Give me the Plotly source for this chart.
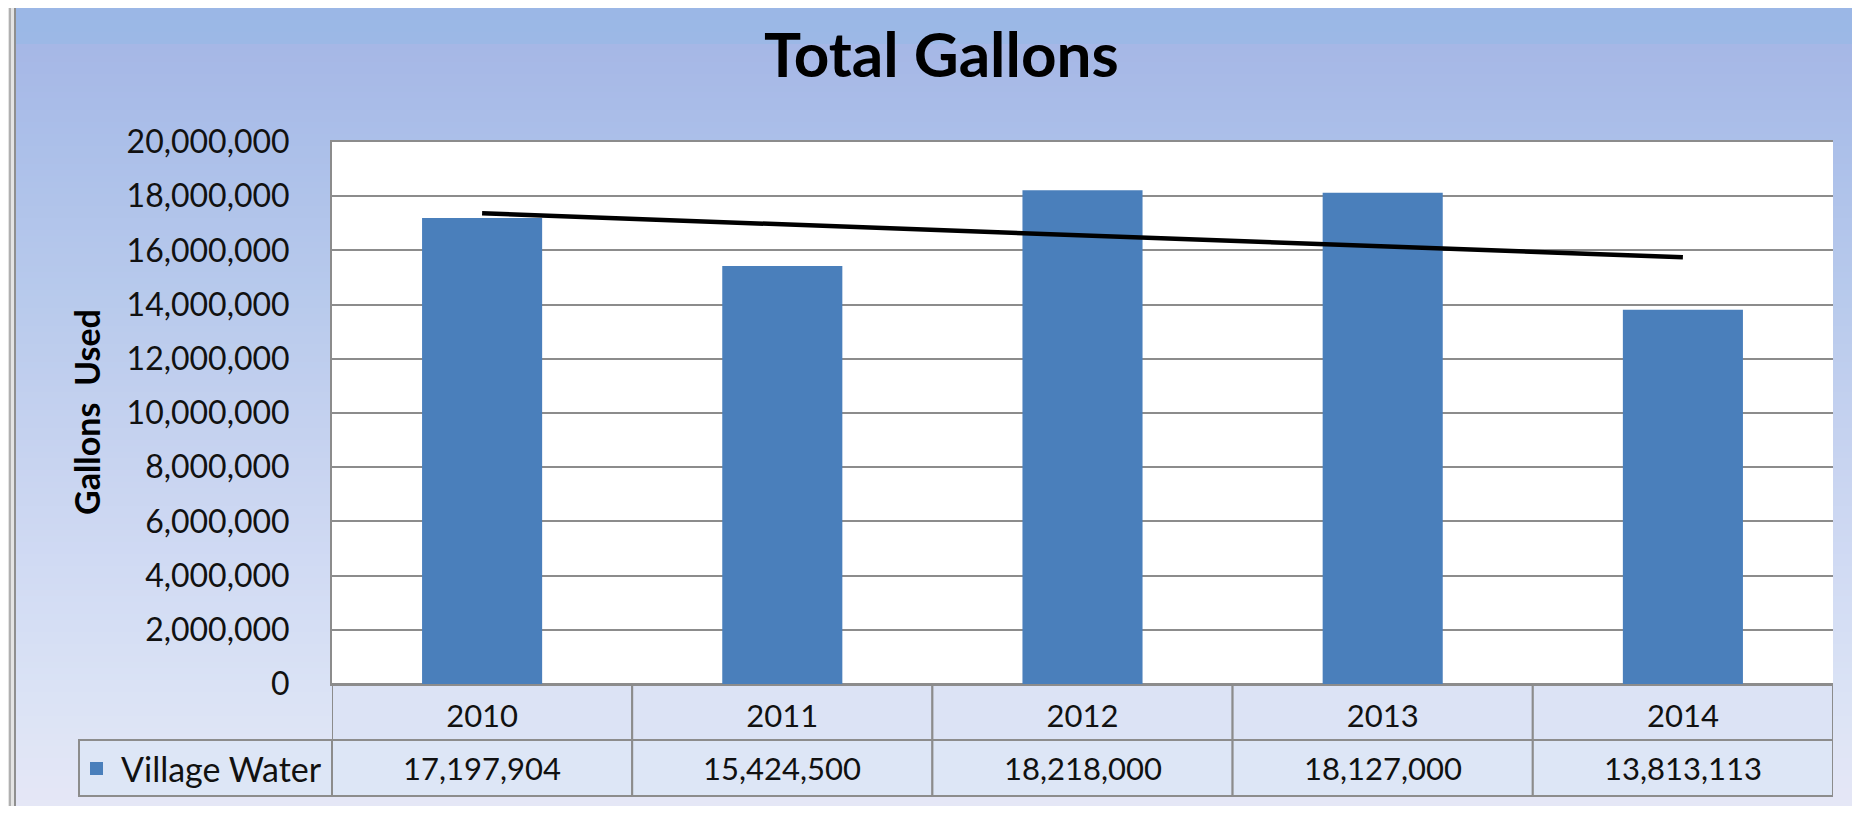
import numpy as np
import plotly.graph_objects as go

# ---------------- data ----------------
years = ["2010", "2011", "2012", "2013", "2014"]
gallons = [17197904, 15424500, 18218000, 18127000, 13813113]
series_name = "Village Water"
y_tick_values = [0, 2000000, 4000000, 6000000, 8000000, 10000000,
                 12000000, 14000000, 16000000, 18000000, 20000000]
chart_title = "Total Gallons"
y_title = "Gallons  Used"

# ---------------- geometry / style ----------------
# page body margin of 8px is compensated: figure is 1844x798 placed at (8, 8)
OX, OY = 8, 8
FW, FH = 1844, 798
PLOT_L, PLOT_R, PLOT_T, PLOT_B = 332, 1833, 142, 684
ROW1_B, ROW2_B = 740, 796
LEG_L = 79
BAR_COLOR = "#4a7fbb"
GRID = "#8c8c8c"
FONT = "Lato, Carlito, Calibri, sans-serif"
TXT = "#111111"


def px(x):
    return (x - OX) / FW


def py(y):
    return 1 - (y - OY) / FH


fig = go.Figure()

fig.add_bar(x=years, y=gallons, width=0.4, marker_color=BAR_COLOR,
            marker_line_width=0, name=series_name, showlegend=False)

idx = np.arange(len(years))
coef = np.polyfit(idx, gallons, 1)
trend = np.polyval(coef, idx)
fig.add_scatter(x=years, y=trend, mode="lines",
                line=dict(color="black", width=4.5), showlegend=False,
                name="Linear (Village Water)")

shapes = []

# background gradient (stripes)
stops = [(0, (0x9a, 0xb7, 0xe6)), (43, (0x9c, 0xb8, 0xe6)),
         (44, (0xa6, 0xb7, 0xe6)), (140, (0xab, 0xbf, 0xe9)),
         (300, (0xb8, 0xca, 0xec)), (420, (0xc4, 0xd1, 0xef)),
         (560, (0xd0, 0xda, 0xf3)), (700, (0xdb, 0xe3, 0xf5)),
         (814, (0xe6, 0xe7, 0xf6))]


def col_at(y):
    for (y0, c0), (y1, c1) in zip(stops[:-1], stops[1:]):
        if y0 <= y <= y1:
            t = (y - y0) / (y1 - y0) if y1 > y0 else 0
            return "rgb(%d,%d,%d)" % tuple(round(a + (b - a) * t) for a, b in zip(c0, c1))
    return "rgb(%d,%d,%d)" % stops[-1][1]


step = 6
for y in range(OY, 814, step):
    shapes.append(dict(type="rect", xref="paper", yref="paper", layer="below",
                       x0=px(16), x1=1, y0=max(0, py(y + step + 1)), y1=py(y),
                       fillcolor=col_at(y + step / 2), line_width=0))
# left window strip
shapes.append(dict(type="rect", xref="paper", yref="paper", layer="below",
                   x0=0, x1=px(16), y0=0, y1=1, fillcolor="#e4e4e4", line_width=0))
for xl, c in [(10, "#b0b0b0"), (15, "#8f8f8f")]:
    shapes.append(dict(type="line", xref="paper", yref="paper", layer="below",
                       x0=px(xl), x1=px(xl), y0=0, y1=1,
                       line=dict(color=c, width=2)))

# white plot area
shapes.append(dict(type="rect", xref="paper", yref="paper", layer="below",
                   x0=px(PLOT_L), x1=px(PLOT_R), y0=py(PLOT_B), y1=py(PLOT_T),
                   fillcolor="white", line_width=0))

# data table cells
for i in range(len(years)):
    shapes.append(dict(type="rect", xref="x", yref="paper", layer="below",
                       x0=i - 0.5, x1=i + 0.5, y0=py(ROW1_B), y1=py(PLOT_B),
                       fillcolor="#dce3f5", line=dict(color=GRID, width=2)))
    shapes.append(dict(type="rect", xref="x", yref="paper", layer="below",
                       x0=i - 0.5, x1=i + 0.5, y0=py(ROW2_B), y1=py(ROW1_B),
                       fillcolor="#dde6f6", line=dict(color=GRID, width=2)))
# legend cell
shapes.append(dict(type="rect", xref="paper", yref="paper", layer="below",
                   x0=px(LEG_L), x1=px(PLOT_L), y0=py(ROW2_B), y1=py(ROW1_B),
                   fillcolor="#dde6f6", line=dict(color=GRID, width=2)))
shapes.append(dict(type="rect", xref="paper", yref="paper", layer="below",
                   x0=px(90), x1=px(103), y0=py(775), y1=py(762),
                   fillcolor=BAR_COLOR, line_width=0))

annotations = []
row2_mid = (ROW1_B + ROW2_B) / 2
for i, v in enumerate(gallons):
    annotations.append(dict(x=i, xref="x", y=py(row2_mid), yref="paper",
                            text=f"{v:,}", showarrow=False, xanchor="center",
                            yanchor="middle",
                            font=dict(family=FONT, size=31, color=TXT)))
annotations.append(dict(x=px(119), xref="paper", y=py(row2_mid), yref="paper",
                        text=series_name, showarrow=False, xanchor="left",
                        yanchor="middle",
                        font=dict(family=FONT, size=34, color=TXT)))
annotations.append(dict(x=px(86), xref="paper", y=py(412), yref="paper",
                        text=y_title, textangle=-90, showarrow=False,
                        xanchor="center", yanchor="middle",
                        font=dict(family=FONT, size=34, color="#000000", weight=700)))
annotations.append(dict(x=px(941), xref="paper", y=py(53), yref="paper",
                        text=chart_title, showarrow=False,
                        xanchor="center", yanchor="middle",
                        font=dict(family=FONT, size=62, color="#000000", weight=700)))

fig.update_layout(
    width=FW, height=FH, autosize=False,
    margin=dict(l=0, r=0, t=0, b=0, pad=0),
    paper_bgcolor="#c8d4f0",
    plot_bgcolor="white",
    font=dict(family=FONT, size=31, color=TXT),
    shapes=shapes, annotations=annotations,
    showlegend=False,
    xaxis=dict(domain=[px(PLOT_L), px(PLOT_R)], range=[-0.5, len(years) - 0.5],
               type="category", showgrid=False, zeroline=False, automargin=False,
               showline=True, mirror=True, linecolor=GRID, linewidth=2,
               ticks="", ticklabelstandoff=4,
               tickfont=dict(family=FONT, size=31, color=TXT)),
    yaxis=dict(domain=[py(PLOT_B), py(PLOT_T)], range=[0, 20000000],
               tickvals=y_tick_values, tickformat=",d", automargin=False,
               showgrid=True, gridcolor=GRID, gridwidth=2, zeroline=False,
               showline=True, linecolor=GRID, linewidth=2,
               ticks="", ticklabelstandoff=34,
               tickfont=dict(family=FONT, size=32, color=TXT)),
)

fig.write_html("out.html")
